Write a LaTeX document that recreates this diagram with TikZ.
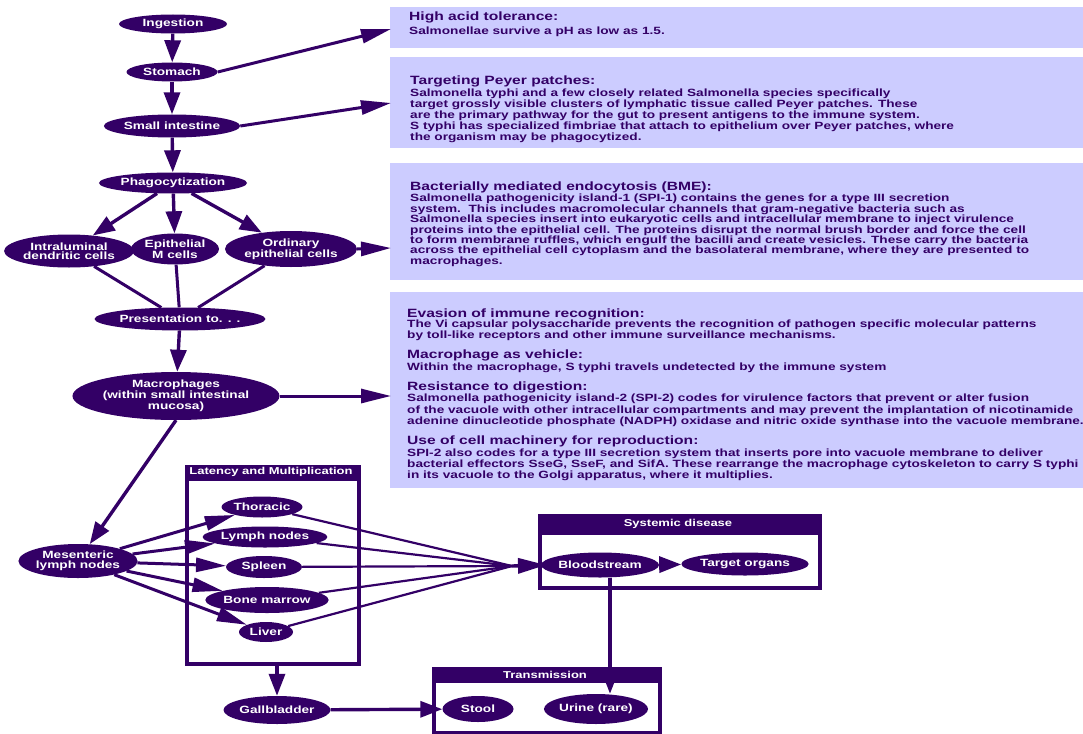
\documentclass[tikz,border=0pt]{standalone}
\usepackage{fontspec}
\setmainfont{Liberation Sans}[FakeStretch=1.3]
\usetikzlibrary{arrows.meta,shapes.geometric}
\definecolor{pur}{RGB}{51,0,102}
\definecolor{lav}{RGB}{204,204,255}
\newcommand\mystrut{\rule{0pt}{9pt}}
\tikzset{
 ell/.style={ellipse, fill=pur, text=white, inner sep=0pt, align=center, font=\fontsize{10.5}{9.5}\selectfont\bfseries},
 arr/.style={draw=pur, line width=3.4pt, -{Triangle[length=22pt,width=16pt]}},
 arrlong/.style={draw=pur, line width=3pt, -{Triangle[length=30pt,width=14pt]}},
 link/.style={draw=pur, line width=3pt},
 feed/.style={draw=pur, line width=2.2pt},
 boxframe/.style={draw=pur, line width=3.5pt, fill=white, inner sep=0pt, anchor=north west},
 hdr/.style={text=white, font=\fontsize{10}{10}\selectfont\bfseries, inner sep=0pt},
 ttl/.style={anchor=base west, inner sep=0pt, text=pur, font=\fontsize{12}{12}\selectfont\bfseries},
 bdy/.style={anchor=north west, inner sep=0pt, align=left, text=pur, font=\fontsize{10.5}{11}\selectfont\bfseries},
}
\begin{document}
\begin{tikzpicture}[x=1pt,y=-1pt]
\useasboundingbox (0,0) rectangle (1083,733);
\fill[white] (0,0) rectangle (1083,733);
% ---- text panels
\fill[lav] (390,7) rectangle (1083,48);
\fill[lav] (390,57) rectangle (1083,148);
\fill[lav] (390,163) rectangle (1083,280);
\fill[lav] (390,292) rectangle (1083,488);
\coordinate (a1) at (391,29);
\coordinate (a2) at (391,103);
\coordinate (a3) at (391,248);
\coordinate (a4) at (391,396);

\node[ttl] (t1) at (409,20.5) {High acid tolerance:};
\node[bdy] (b1) at (409,25) {\mystrut Salmonellae survive a pH as low as 1.5.};

\node[ttl] (t2) at (410,84.5) {Targeting Peyer patches:};
\node[bdy] (b2) at (410,87.5) {\mystrut Salmonella typhi and a few closely related Salmonella species specifically\\
target grossly visible clusters of lymphatic tissue called Peyer patches. These\\
are the primary pathway for the gut to present antigens to the immune system.\\
S typhi has specialized fimbriae that attach to epithelium over Peyer patches, where\\
the organism may be phagocytized.};

\node[ttl] (t3) at (410,190.5) {Bacterially mediated endocytosis (BME):};
\node[bdy, font=\fontsize{10.5}{10.45}\selectfont\bfseries] (b3) at (410,192.5) {\mystrut Salmonella pathogenicity island-1 (SPI-1) contains the genes for a type III secretion\\
system.\ \ This includes macromolecular channels that gram-negative bacteria such as\\
Salmonella species insert into eukaryotic cells and intracellular membrane to inject virulence\\
proteins into the epithelial cell. The proteins disrupt the normal brush border and force the cell\\
to form membrane ruffles, which engulf the bacilli and create vesicles. These carry the bacteria\\
across the epithelial cell cytoplasm and the basolateral membrane, where they are presented to\\
macrophages.};

\node[ttl] (t4) at (407,317.5) {Evasion of immune recognition:};
\node[bdy] (b4) at (407,318.5) {\mystrut The Vi capsular polysaccharide prevents the recognition of pathogen specific molecular patterns\\
by toll-like receptors and other immune surveillance mechanisms.};
\node[ttl] (t5) at (407,358.5) {Macrophage as vehicle:};
\node[bdy] (b5) at (407,361.5) {\mystrut Within the macrophage, S typhi travels undetected by the immune system};
\node[ttl] (t6) at (407,390.5) {Resistance to digestion:};
\node[bdy, font=\fontsize{10.5}{11.5}\selectfont\bfseries] (b6) at (407,392.5) {\mystrut Salmonella pathogenicity island-2 (SPI-2) codes for virulence factors that prevent or alter fusion\\
of the vacuole with other intracellular compartments and may prevent the implantation of nicotinamide\\
adenine dinucleotide phosphate (NADPH) oxidase and nitric oxide synthase into the vacuole membrane.};
\node[ttl] (t7) at (407,444.5) {Use of cell machinery for reproduction:};
\node[bdy] (b7) at (407,447.5) {\mystrut SPI-2 also codes for a type III secretion system that inserts pore into vacuole membrane to deliver\\
bacterial effectors SseG, SseF, and SifA. These rearrange the macrophage cytoskeleton to carry S typhi\\
in its vacuole to the Golgi apparatus, where it multiplies.};

% ---- group frames
\node[boxframe, minimum width=172pt, minimum height=197pt] (lat) at (185,465) {};
\fill[pur] (185,465) rectangle (357,481);
\node[hdr] (lath) at (271,472) {Latency and Multiplication};

\node[boxframe, minimum width=280pt, minimum height=72pt] (sys) at (538,514) {};
\fill[pur] (538,514) rectangle (818,535);
\node[hdr] (sysh) at (678,524) {Systemic disease};

\node[boxframe, minimum width=226pt, minimum height=64pt] (trans) at (432,667) {};
\fill[pur] (432,667) rectangle (658,683);
\node[hdr] (transh) at (545,675) {Transmission};

% ---- nodes
\node[ell, minimum width=108pt, minimum height=19pt] (ing) at (173,24) {Ingestion};
\node[ell, minimum width=91pt, minimum height=19pt] (sto) at (172,72) {Stomach};
\node[ell, minimum width=134pt, minimum height=23pt] (sint) at (172,126) {Small intestine};
\node[ell, minimum width=140pt, minimum height=21pt] (phag) at (173,183) {Phagocytization};
\node[ell, minimum width=122pt, minimum height=33pt] (intra) at (69,251) {Intraluminal\\dendritic cells};
\node[ell, minimum width=88pt, minimum height=31pt] (epim) at (175,249) {Epithelial\\M cells};
\node[ell, minimum width=122pt, minimum height=36pt] (ordi) at (291,249) {Ordinary\\epithelial cells};
\node[ell, minimum width=162pt, minimum height=23pt] (pres) at (180,319) {Presentation to. . .};
\node[ell, minimum width=192pt, minimum height=48pt] (macro) at (176,396) {Macrophages\\(within small intestinal\\mucosa)};
\node[ell, minimum width=118pt, minimum height=34pt] (mes) at (78,561) {Mesenteric\\lymph nodes};
\node[ell, minimum width=81pt, minimum height=21pt] (thor) at (262,507) {Thoracic};
\node[ell, minimum width=117pt, minimum height=21pt] (lymph) at (265,537) {Lymph nodes};
\node[ell, minimum width=76pt, minimum height=22pt] (spleen) at (264,567) {Spleen};
\node[ell, minimum width=113pt, minimum height=26pt] (bone) at (267,600) {Bone marrow};
\node[ell, minimum width=54pt, minimum height=20pt] (liver) at (266,632) {Liver};
\node[ell, minimum width=107pt, minimum height=28pt] (gall) at (277,710) {Gallbladder};
\node[ell, minimum width=107pt, minimum height=25pt] (blood) at (600,565) {Bloodstream};
\node[ell, minimum width=125pt, minimum height=23pt] (target) at (745,564) {Target organs};
\node[ell, minimum width=71pt, minimum height=26pt] (stool) at (478,709) {Stool};
\node[ell, minimum width=103pt, minimum height=30pt] (urine) at (596,709) {Urine (rare)};

% ---- connectors
\draw[arr] (ing) -- (sto);
\draw[arr] (sto) -- (sint);
\draw[arr] (sint) -- (phag);
\draw[arr] (phag) -- (intra);
\draw[arr] (phag) -- (epim);
\draw[arr] (phag) -- (ordi);
\draw[link] (intra) -- (pres);
\draw[link] (epim) -- (pres);
\draw[link] (ordi) -- (pres);
\draw[arr] (pres) -- (macro);
\draw[arr] (macro.south) -- (mes);
\draw[arrlong] (sto.east) -- (a1);
\draw[arrlong] (sint.east) -- (a2);
\draw[arrlong] (ordi.east) -- (a3);
\draw[arrlong] (macro.east) -- (a4);

\draw[arrlong] (mes) -- (thor);
\draw[arrlong] (mes) -- (lymph);
\draw[arrlong] (mes) -- (spleen);
\draw[arrlong] (mes) -- (bone);
\draw[arrlong] (mes) -- (liver);

\coordinate (bconv) at (512,566);
\coordinate (bin) at (546,565);
\draw[feed] (thor) -- (bconv);
\draw[feed] (lymph) -- (bconv);
\draw[feed] (spleen) -- (bconv);
\draw[feed] (bone) -- (bconv);
\draw[feed] (liver) -- (bconv);
\draw[arr, -{Triangle[length=28pt,width=15pt]}] (bconv) -- (bin);

\draw[arr] (blood) -- (target);
\coordinate (bsx) at ([xshift=10pt]blood.south);
\coordinate (ux) at (bsx |- urine.north);
\draw[arr] (bsx) -- (ux);

\coordinate (gt) at (gall.north |- lat.south);
\draw[arr] (gt) -- (gall);
\draw[arr] (gall) -- (stool);
\end{tikzpicture}
\end{document}
